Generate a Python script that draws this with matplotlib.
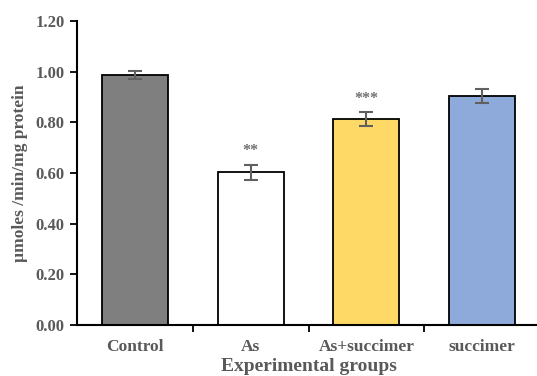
import numpy as np
import matplotlib.pyplot as plt

groups = ["Control", "As", "As+succimer", "succimer"]
values = [0.987, 0.603, 0.813, 0.904]
errors = [0.016, 0.030, 0.029, 0.028]
stars = ["", "**", "***", ""]
colors = ["#7f7f7f", "#ffffff", "#ffd966", "#8eaadb"]
yticks = [0.0, 0.2, 0.4, 0.6, 0.8, 1.0, 1.2]

plt.rcParams["font.family"] = ["Liberation Serif", "DejaVu Serif"]
text_color = "#595959"

fig = plt.figure(figsize=(5.37, 3.76), dpi=100)
ax = fig.add_axes([77 / 537, 51 / 376, 463 / 537, 304 / 376])

x = np.arange(len(groups))
ax.bar(x, values, width=0.57, color=colors, edgecolor="black", linewidth=1.3, zorder=2)
ax.errorbar(x, values, yerr=errors, fmt="none", ecolor="#606060", elinewidth=1.5,
            capsize=5, capthick=1.5, zorder=3)

for xi, v, e, s in zip(x, values, errors, stars):
    if s:
        ax.text(xi, v + e + 0.052, s, ha="center", va="center", fontsize=11.5,
                fontweight="bold", color="#707070")

ax.set_xlim(-0.5, 3.5)
ax.set_ylim(0, 1.2)
ax.set_yticks(yticks)
ax.set_yticklabels([f"{t:.2f}" for t in yticks], fontsize=12, fontweight="bold", color=text_color)

# category labels centred, tick marks between categories
ax.set_xticks(x)
ax.set_xticklabels(groups, fontsize=12.5, fontweight="bold", color=text_color)
ax.tick_params(axis="x", length=0, pad=10)
ax.set_xticks([0.5, 1.5, 2.5], minor=True)
ax.tick_params(axis="x", which="minor", length=5, width=1.3, direction="out")
ax.tick_params(axis="y", length=5, width=1.3, direction="out", pad=4)

for side in ["top", "right"]:
    ax.spines[side].set_visible(False)
for side in ["left", "bottom"]:
    ax.spines[side].set_linewidth(1.5)

ax.set_ylabel("µmoles /min/mg protein", fontsize=12.5, fontweight="bold", color=text_color, labelpad=5)
ax.set_xlabel("Experimental groups", fontsize=14, fontweight="bold", color=text_color, labelpad=2)

fig.savefig("out.png", dpi=100)
